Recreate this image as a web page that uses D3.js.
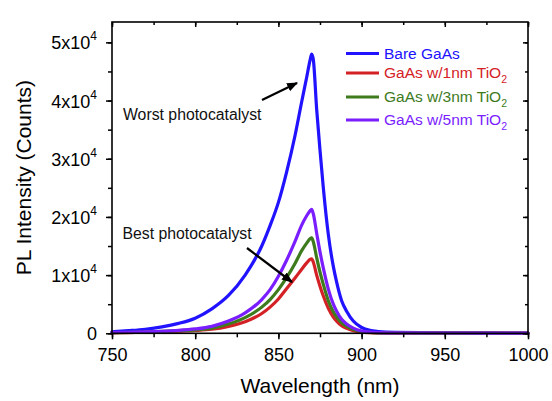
<!DOCTYPE html>
<html>
<head>
<meta charset="utf-8">
<script src="https://cdn.jsdelivr.net/npm/d3@7/dist/d3.min.js"></script>
<style>
  html, body { margin: 0; padding: 0; background: #fff; }
  svg { display: block; font-family: "Liberation Sans", Arial, sans-serif; }
</style>
</head>
<body>
<svg id="chart" width="552" height="401"></svg>
<script>
// ---- data ----
const wavelengths = [750,760,770,780,790,800,810,820,830,840,845,850,855,860,864,867,869,870,871,873,875,877,880,883,885,888,891,895,900,905,910,920,950,1000];
const bareGaAs = [250,450,700,1100,1700,2600,4200,6500,10000,15000,18500,22500,27800,34000,39800,44000,46900,48000,47000,38500,31500,25000,17000,11500,8800,5600,3800,2100,1000,500,300,150,80,50];
const tio1nm   = [80,120,170,250,350,480,700,1200,2000,3400,4500,5900,7700,9500,11000,12100,12700,12800,12200,10000,8100,6400,4300,2800,2100,1300,850,450,200,100,60,40,30,20];
const tio3nm   = [100,150,220,320,450,600,900,1600,2700,4500,5800,7500,9600,12000,14200,15500,16250,16400,15700,13000,10500,8400,5600,3700,2800,1800,1200,650,300,150,90,60,40,30];
const tio5nm   = [130,180,250,350,500,750,1200,2100,3500,5800,7500,9800,12600,15800,18600,20200,21050,21300,20500,17200,14000,11200,7600,5000,3800,2400,1600,900,400,200,120,70,50,40];
const seriesNames = ["Bare GaAs", "GaAs w/1nm TiO", "GaAs w/3nm TiO", "GaAs w/5nm TiO"];
const seriesSubs  = ["", "2", "2", "2"];
const xTicks = [750, 800, 850, 900, 950, 1000];
const yTicks = [0, 10000, 20000, 30000, 40000, 50000];
const yTickMantissa = ["0", "1", "2", "3", "4", "5"];

const colors = ["#2112ff", "#d42126", "#3d7b1d", "#7a1dff"];
const seriesValues = [bareGaAs, tio1nm, tio3nm, tio5nm];

const svg = d3.select("#chart");
const L = 112, R = 528, T = 22, B = 333.3;
const x = d3.scaleLinear().domain([750, 1000]).range([L, R]);
const y = d3.scaleLinear().domain([0, 53500]).range([B, T]);

// curves (drawn first, axes frame on top)
const line = d3.line().x(d => x(d[0])).y(d => y(d[1])).curve(d3.curveMonotoneX);
const g = svg.append("g");
seriesValues.forEach((vals, i) => {
  const pts = wavelengths.map((w, j) => [w, vals[j]]);
  g.append("path").attr("d", line(pts)).attr("fill", "none")
    .attr("stroke", colors[i]).attr("stroke-width", 3.2)
    .attr("stroke-linejoin", "round").attr("stroke-linecap", "round");
});

// axes
const xMinor = d3.range(750, 1001, 25);
const yMinor = d3.range(0, 53001, 5000);
const axisStyle = sel => { sel.select(".domain").remove(); sel.selectAll("line").attr("stroke", "#000").attr("stroke-width", 1.5); };

svg.append("g").attr("transform", `translate(0,${B})`)
  .call(d3.axisBottom(x).tickValues(xMinor).tickSize(4).tickFormat(""))
  .call(axisStyle);
svg.append("g").attr("transform", `translate(0,${B})`)
  .call(d3.axisBottom(x).tickValues(xTicks).tickSize(6).tickPadding(9).tickFormat(d3.format("d")))
  .call(axisStyle)
  .selectAll("text").attr("font-size", 18).attr("fill", "#000").attr("font-family", "Liberation Sans, Arial, sans-serif");

svg.append("g").attr("transform", `translate(${L},0)`)
  .call(d3.axisLeft(y).tickValues(yMinor).tickSize(4).tickFormat(""))
  .call(axisStyle);
const yAx = svg.append("g").attr("transform", `translate(${L},0)`)
  .call(d3.axisLeft(y).tickValues(yTicks).tickSize(6).tickPadding(9).tickFormat(""))
  .call(axisStyle);
yAx.selectAll(".tick").each(function(d, i) {
  const t = d3.select(this).select("text")
    .attr("font-size", 18).attr("fill", "#000").attr("dy", "0.36em")
    .attr("font-family", "Liberation Sans, Arial, sans-serif");
  if (d === 0) { t.text("0"); }
  else {
    t.append("tspan").text(yTickMantissa[i] + "x10");
    t.append("tspan").attr("font-size", 12).attr("dy", "-0.75em").text("4");
  }
});

// top & right inward ticks
svg.append("g").attr("transform", `translate(0,${T})`)
  .call(d3.axisTop(x).tickValues(xMinor).tickSize(-3).tickFormat(""))
  .call(axisStyle);
svg.append("g").attr("transform", `translate(0,${T})`)
  .call(d3.axisTop(x).tickValues(xTicks).tickSize(-5).tickFormat(""))
  .call(axisStyle);
svg.append("g").attr("transform", `translate(${R},0)`)
  .call(d3.axisRight(y).tickValues(yMinor).tickSize(-3).tickFormat(""))
  .call(axisStyle);
svg.append("g").attr("transform", `translate(${R},0)`)
  .call(d3.axisRight(y).tickValues(yTicks).tickSize(-5).tickFormat(""))
  .call(axisStyle);

// frame
svg.append("rect").attr("x", L).attr("y", T).attr("width", R - L).attr("height", B - T)
  .attr("fill", "none").attr("stroke", "#000").attr("stroke-width", 1.6);

// axis titles
svg.append("text").attr("x", (L + R) / 2).attr("y", 393).attr("text-anchor", "middle")
  .attr("font-size", 21).attr("fill", "#000").text("Wavelength (nm)");
svg.append("text").attr("transform", `translate(31,${(T + B) / 2}) rotate(-90)`)
  .attr("text-anchor", "middle").attr("font-size", 21).attr("fill", "#000")
  .text("PL Intensity (Counts)");

// legend
const legY = [53.5, 73, 97, 120];
seriesNames.forEach((name, i) => {
  svg.append("line").attr("x1", 346).attr("x2", 379).attr("y1", legY[i]).attr("y2", legY[i])
    .attr("stroke", colors[i]).attr("stroke-width", 3);
  const t = svg.append("text").attr("x", 384).attr("y", legY[i] + 5.3)
    .attr("font-size", 15.5).attr("fill", colors[i]);
  t.append("tspan").text(name);
  if (seriesSubs[i]) t.append("tspan").attr("font-size", 10.5).attr("dy", "0.45em").text(seriesSubs[i]);
});

// annotations
const defs = svg.append("defs");
defs.append("marker").attr("id", "arrow").attr("viewBox", "0 0 10 10")
  .attr("refX", 9).attr("refY", 5).attr("markerWidth", 5).attr("markerHeight", 5)
  .attr("markerUnits", "strokeWidth").attr("orient", "auto")
  .append("path").attr("d", "M0,1 L10,5 L0,9 Z").attr("fill", "#000");

svg.append("text").attr("x", 123).attr("y", 120).attr("font-size", 15.8).attr("fill", "#111")
  .text("Worst photocatalyst");
svg.append("line").attr("x1", 262).attr("y1", 100).attr("x2", 297).attr("y2", 83)
  .attr("stroke", "#000").attr("stroke-width", 2.2).attr("marker-end", "url(#arrow)");

svg.append("text").attr("x", 122.5).attr("y", 238.5).attr("font-size", 15.8).attr("fill", "#111")
  .text("Best photocatalyst");
svg.append("line").attr("x1", 247).attr("y1", 248).attr("x2", 292).attr("y2", 282)
  .attr("stroke", "#000").attr("stroke-width", 2.2).attr("marker-end", "url(#arrow)");
</script>
</body>
</html>
